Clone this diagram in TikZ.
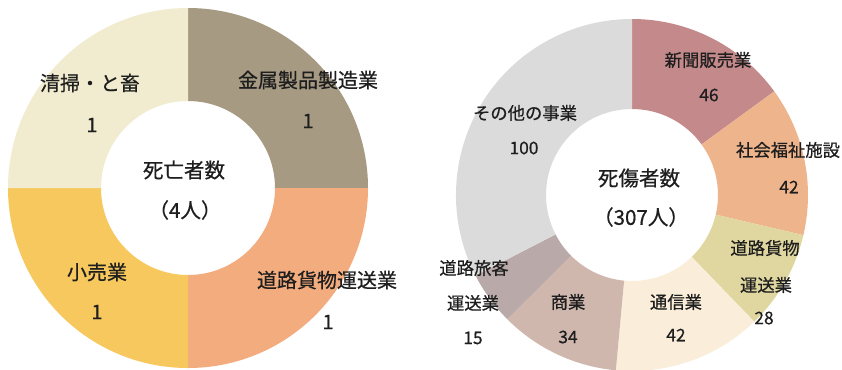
\documentclass[tikz,border=0pt]{standalone}
\usepackage{fontspec}
\newfontfamily\jp[FakeBold=0.6]{Noto Sans CJK JP}
\definecolor{lA}{HTML}{A69A83}
\definecolor{lB}{HTML}{F3AC7E}
\definecolor{lC}{HTML}{F6C85E}
\definecolor{lD}{HTML}{F1ECCF}
\definecolor{rA}{HTML}{C48A8B}
\definecolor{rB}{HTML}{EEB48C}
\definecolor{rC}{HTML}{E0D7A0}
\definecolor{rD}{HTML}{FAEEDA}
\definecolor{rE}{HTML}{CFB7AE}
\definecolor{rF}{HTML}{B9A9A9}
\definecolor{rG}{HTML}{DCDBDC}
\definecolor{txt}{HTML}{1E1E1E}
\newcommand{\donutseg}[6]{%
  \fill[#6, shift={(#1)}] (#2:#4) arc[start angle=#2, end angle=#3, radius=#4]
    -- (#3:#5) arc[start angle=#3, end angle=#2, radius=#5] -- cycle;}
\tikzset{
  lbl/.style={font=\jp\fontsize{15}{17}\selectfont, text=txt, inner sep=0pt},
  slbl/.style={font=\jp\fontsize{13}{15}\selectfont, text=txt, inner sep=0pt},
  clbl/.style={font=\jp\fontsize{15.4}{17}\selectfont, text=txt, inner sep=0pt}
}
\begin{document}
\begin{tikzpicture}[x=0.75pt,y=0.75pt]
\fill[white] (0,0) rectangle (842,-369);
\useasboundingbox (0,0) rectangle (842,-369);
\coordinate (L) at (188,-188);
\coordinate (R) at (632,-195);
% left donut
\donutseg{L}{90}{0}{180}{87}{lA}
\donutseg{L}{0}{-90}{180}{87}{lB}
\donutseg{L}{-90}{-180}{180}{87}{lC}
\donutseg{L}{180}{90}{180}{87}{lD}
% right donut
\donutseg{R}{90}{36.06}{176}{86}{rA}
\donutseg{R}{36.06}{-13.19}{176}{86}{rB}
\donutseg{R}{-13.19}{-46.02}{176}{86}{rC}
\donutseg{R}{-46.02}{-95.27}{176}{86}{rD}
\donutseg{R}{-95.27}{-135.14}{176}{86}{rE}
\donutseg{R}{-135.14}{-152.73}{176}{86}{rF}
\donutseg{R}{-152.73}{-270}{176}{86}{rG}
% left labels
\node[lbl] (l1) at (90,-83) {清掃・と畜};
\node[lbl] (l1v) at (92,-125) {1};
\node[lbl] (l2) at (308,-80) {金属製品製造業};
\node[lbl] (l2v) at (308,-121) {1};
\node[lbl] (l3) at (97,-272) {小売業};
\node[lbl] (l3v) at (97,-312) {1};
\node[lbl] (l4) at (327,-280) {道路貨物運送業};
\node[lbl] (l4v) at (328,-322) {1};
\node[clbl] (lc1) at (184,-170) {死亡者数};
\node[clbl] (lc2) at (185,-210) {（4人）};
% right labels
\node[slbl] (r1) at (708,-60) {新聞販売業};
\node[slbl] (r1v) at (709,-95) {46};
\node[slbl] (r2) at (788,-150) {社会福祉施設};
\node[slbl] (r2v) at (789,-187) {42};
\node[slbl] (r3) at (765,-248) {道路貨物};
\node[slbl] (r3b) at (766,-285) {運送業};
\node[slbl] (r3v) at (764,-318) {28};
\node[slbl] (r4) at (676,-302) {通信業};
\node[slbl] (r4v) at (676,-335) {42};
\node[slbl] (r5) at (568,-302) {商業};
\node[slbl] (r5v) at (568,-337) {34};
\node[slbl] (r6) at (474,-268) {道路旅客};
\node[slbl] (r6b) at (473,-303) {運送業};
\node[slbl] (r6v) at (473,-338) {15};
\node[slbl] (r7) at (525,-113) {その他の事業};
\node[slbl] (r7v) at (524,-148) {100};
\node[clbl] (rc1) at (639,-178) {死傷者数};
\node[clbl] (rc2) at (641,-217) {（307人）};
\end{tikzpicture}
\end{document}
